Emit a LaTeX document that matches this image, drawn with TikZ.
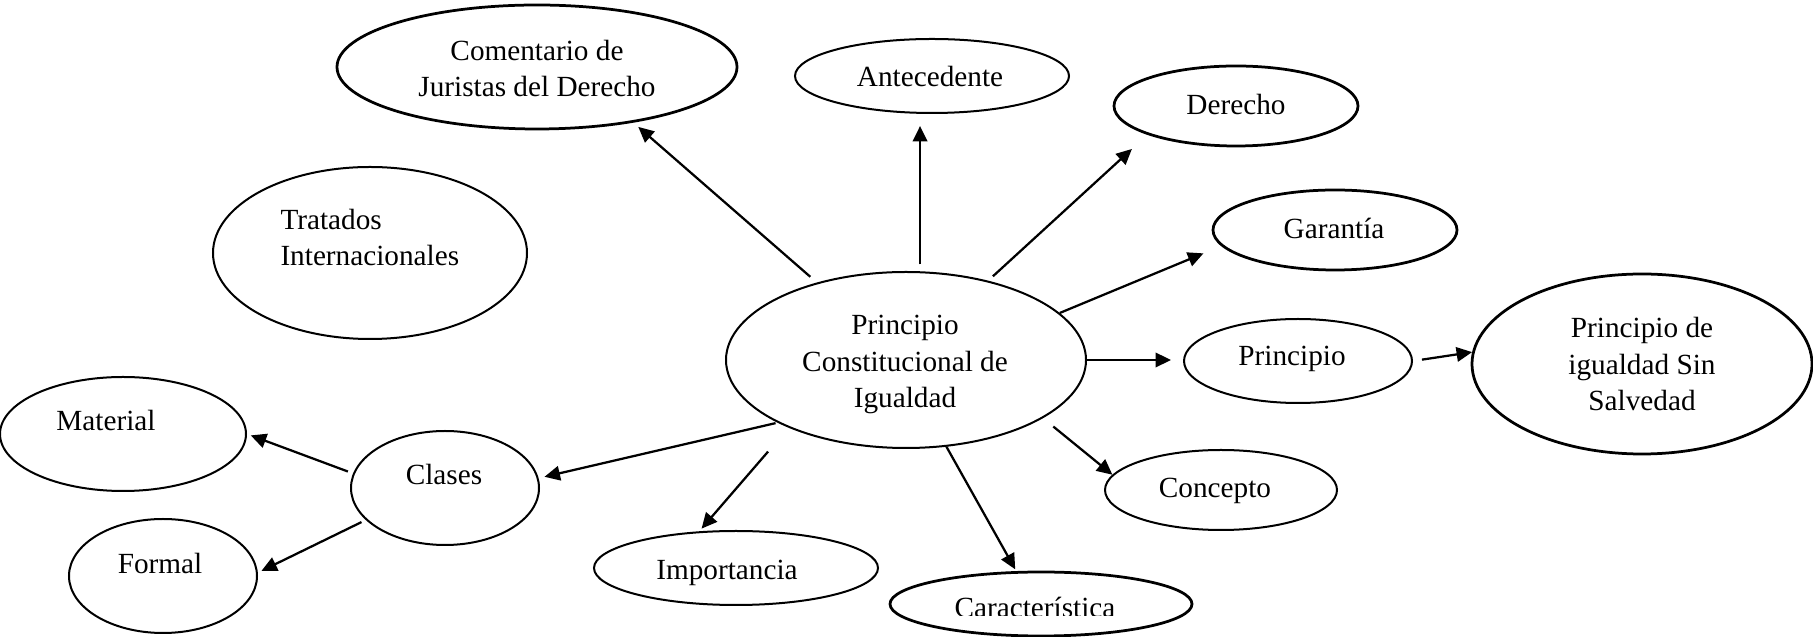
\documentclass[tikz,border=0pt]{standalone}
\usepackage{fontspec}
\setmainfont{Liberation Serif}
\usetikzlibrary{arrows.meta,shapes.geometric}

\begin{document}
\begin{tikzpicture}[x=0.4pt,y=-0.4pt,
  burbuja/.style={draw,ellipse,line width=0.8pt,inner sep=0pt},
  gruesa/.style={line width=1.1pt},
  texto/.style={font=\fontsize{11.7}{14.6}\selectfont,inner sep=0pt,anchor=base,align=center},
  flecha/.style={-{Triangle[length=6.2pt,width=5.8pt]},line width=0.9pt}]
\useasboundingbox (0,0) rectangle (1813,637);
% elipses
\node[burbuja,gruesa,minimum width=160pt,minimum height=49.6pt] (com) at (537,67) {};
\node[burbuja,minimum width=109.6pt,minimum height=29.6pt] (ant) at (932,76) {};
\node[burbuja,gruesa,minimum width=97.6pt,minimum height=32pt] (der) at (1236,106) {};
\node[burbuja,gruesa,minimum width=97.6pt,minimum height=32pt] (gar) at (1335,230) {};
\node[burbuja,minimum width=125.6pt,minimum height=68.8pt] (tra) at (370,253) {};
\node[burbuja,minimum width=144pt,minimum height=70.4pt] (c) at (906,360) {};
\node[burbuja,minimum width=91.2pt,minimum height=33.6pt] (pri) at (1298,361) {};
\node[burbuja,gruesa,minimum width=136pt,minimum height=72pt] (sin) at (1642,364) {};
\node[burbuja,minimum width=92.8pt,minimum height=32pt] (con) at (1221,490) {};
\node[burbuja,gruesa,minimum width=120.8pt,minimum height=25.6pt] (car) at (1041,604) {};
\node[burbuja,minimum width=113.6pt,minimum height=29.6pt] (imp) at (736,568) {};
\node[burbuja,minimum width=75.2pt,minimum height=45.6pt] (cla) at (445,488) {};
\node[burbuja,minimum width=98.4pt,minimum height=45.6pt] (mat) at (123,434) {};
\node[burbuja,minimum width=75.2pt,minimum height=45.6pt] (for) at (163,576) {};
% textos (base = ultima linea)
\node[texto] (comT) at (537,97) {Comentario de\\Juristas del Derecho};
\node[texto] (antT) at (930,87) {Antecedente};
\node[texto] (derT) at (1236,115) {Derecho};
\node[texto] (garT) at (1334,239) {Garantía};
\node[texto,anchor=base west,align=left] (traT) at (280,266) {Tratados\\Internacionales};
\node[texto] (cT) at (905,408) {Principio\\Constitucional de\\Igualdad};
\node[texto] (priT) at (1292,366) {Principio};
\node[texto] (sinT) at (1642,411) {Principio de\\igualdad Sin\\Salvedad};
\node[texto] (conT) at (1215,498) {Concepto};
\begin{scope}
\clip (890,540) rectangle (1192,616);
\node[texto] (carT) at (1035,618) {Característica};
\end{scope}
\node[texto] (impT) at (727,580) {Importancia};
\node[texto] (claT) at (444,485) {Clases};
\node[texto] (matT) at (106,431) {Material};
\node[texto] (forT) at (160,574) {Formal};
% flechas
\draw[flecha,shorten <=3.5pt,shorten >=2.6pt] (c.139.5) -- (com.-30.4);
\draw[flecha,shorten <=2.8pt,shorten >=4.8pt] (c.81) -- (c.81 |- ant.south);
\draw[flecha,shorten <=2.6pt,shorten >=8.4pt] (c.44) -- (der.-162.4);
\draw[flecha,shorten >=7.7pt] (c.17.4) -- (gar.-172);
\draw[flecha,shorten >=4.8pt] (c.east) -- (c.east -| pri.west);
\draw[flecha,shorten <=3.6pt] (pri.east) -- (sin.176);
\draw[flecha,shorten <=5.3pt] (c.-23) -- (con.172);
\draw[flecha,shorten >=0.8pt] (c.-65.6) -- (car.127);
\draw[flecha,shorten <=0.8pt,shorten >=2.4pt] (c.-154) -- (cla.6.3);
\draw[flecha,shorten <=12.6pt,shorten >=1.4pt] (c.-150.6) -- (imp.135.7);
\draw[flecha,shorten <=2.2pt,shorten >=1.6pt] (cla.171.8) -- (mat.0.5);
\draw[flecha,shorten <=1.9pt,shorten >=1.6pt] (cla.-158.3) -- (for.2.9);
\end{tikzpicture}
\end{document}
